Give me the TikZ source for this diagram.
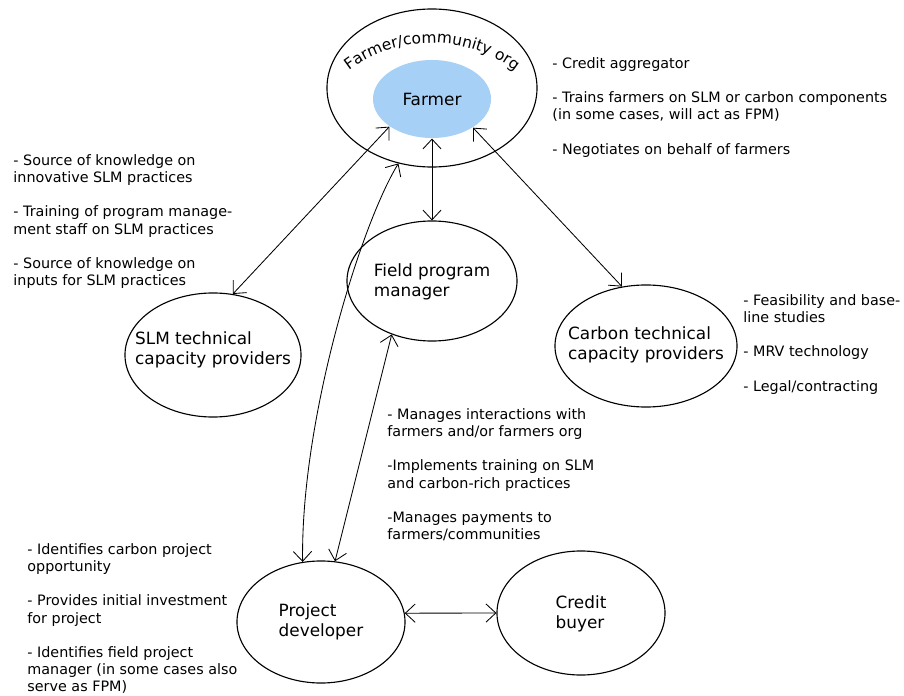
\documentclass[tikz,border=0pt]{standalone}
\usepackage{fontspec}
\setmainfont{DejaVu Sans}
\usetikzlibrary{shapes.geometric, arrows.meta, decorations.text}
\definecolor{farmblue}{RGB}{166,208,245}
\newcommand{\ovalfont}{\fontsize{12}{14.5}\selectfont}
\newcommand{\arcfont}{\fontsize{11}{13}\selectfont}
\newcommand{\notefont}{\fontsize{10.2}{12.2}\selectfont}

\begin{document}
\begin{tikzpicture}[x=0.025cm, y=0.025cm, line width=0.6pt,
	oval/.style={draw, ellipse, inner sep=0pt, line width=0.8pt},
	lbl/.style={align=left, font=\ovalfont, inner sep=0pt},
	note/.style={align=left, font=\notefont, anchor=north west, inner sep=0pt},
	>={Straight Barb[length=7pt,width=13pt]}]
\useasboundingbox (0,0) rectangle (904,-696);
\node[oval, minimum width=5.25cm, minimum height=3.95cm] (org) at (432,-88) {};
\node[oval, draw=none, fill=farmblue, minimum width=2.95cm, minimum height=1.95cm, font=\ovalfont] (farmer) at (432,-99) {Farmer};
\path[decorate, decoration={text along path, text align=center,
	text={|\arcfont|Farmer/community org}}] (335.1,-83.1) arc[start angle=135, end angle=45, radius=3.425cm];
\node[oval, minimum width=4.4cm, minimum height=3.1cm] (slm) at (213,-355) {};
\node[lbl] (slmt) at (213,-350) {SLM technical\\capacity providers};
\node[oval, minimum width=4.25cm, minimum height=3cm] (fpm) at (432,-281) {};
\node[lbl] (fpmt) at (432,-282) {Field program\\manager};
\node[oval, minimum width=4.55cm, minimum height=3.05cm] (carbon) at (646,-346) {};
\node[lbl] (carbt) at (646,-345) {Carbon technical\\capacity providers};
\node[oval, minimum width=4.2cm, minimum height=3.05cm] (pd) at (321,-622) {};
\node[lbl] (pdt) at (321,-622) {Project\\developer};
\node[oval, minimum width=4.2cm, minimum height=3.1cm] (credit) at (581,-613) {};
\node[lbl] (creditt) at (581,-614) {Credit\\buyer};
\draw[<->] (slm.72) -- (farmer.213);
\draw[<->] (org.246) .. controls +(-38,-62) and +(-2,142) .. (pd.107);
\draw[<->] (farmer.270) -- (fpm.90);
\draw[<->] (farmer.325) -- (carbon.112);
\draw[<->] (fpm.233) -- (pd.77);
\draw[<->] (pd.6) -- (credit.180);
\node[note] (orgnote) at (552,-57) {- Credit aggregator\\[12.3pt]- Trains farmers on SLM or carbon components\\(in some cases, will act as FPM)\\[12.3pt]- Negotiates on behalf of farmers};
\node[note] (slmnote) at (13,-154) {- Source of knowledge on\\innovative SLM practices\\[12.3pt]- Training of program manage-\\ment staff on SLM practices\\[12.3pt]- Source of knowledge on\\inputs for SLM practices};
\node[note] (carbnote) at (743,-294) {- Feasibility and base-\\line studies\\[12.3pt]- MRV technology\\[12.3pt]- Legal/contracting};
\node[note] (fpmnote) at (387,-408) {- Manages interactions with\\farmers and/or farmers org\\[12.3pt]-Implements training on SLM\\and carbon-rich practices\\[12.3pt]-Manages payments to\\farmers/communities};
\node[note] (pdnote) at (27,-543) {- Identifies carbon project\\opportunity\\[12.3pt]- Provides initial investment\\for project\\[12.3pt]- Identifies field project\\manager (in some cases also\\serve as FPM)};
\end{tikzpicture}
\end{document}
